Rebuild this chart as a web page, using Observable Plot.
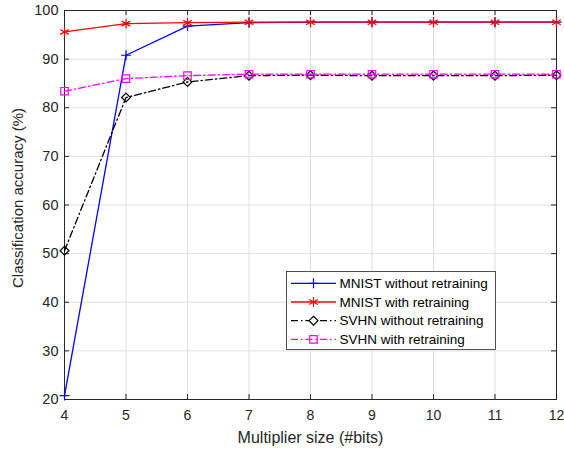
<!DOCTYPE html>
<html><head><meta charset="utf-8">
<script src="https://cdn.jsdelivr.net/npm/d3@7"></script>
<script src="https://cdn.jsdelivr.net/npm/@observablehq/plot@0.6"></script>
<style>body{margin:0;background:#fff} #chart svg{display:block}</style>
</head><body><div id="chart"></div>
<script>
// ---- data ----
const bits = [4, 5, 6, 7, 8, 9, 10, 11, 12];
const mnistWithout = [20.8, 90.8, 96.8, 97.5, 97.6, 97.6, 97.6, 97.6, 97.6];
const mnistWith    = [95.6, 97.3, 97.5, 97.6, 97.6, 97.6, 97.6, 97.6, 97.6];
const svhnWithout  = [50.6, 82.1, 85.3, 86.6, 86.7, 86.6, 86.6, 86.6, 86.7];
const svhnWith     = [83.4, 86.0, 86.6, 86.9, 86.9, 86.9, 86.9, 86.9, 86.9];
const seriesNames = ["MNIST without retraining", "MNIST with retraining", "SVHN without retraining", "SVHN with retraining"];
const seriesValues = [mnistWithout, mnistWith, svhnWithout, svhnWith];
const xTicks = [4, 5, 6, 7, 8, 9, 10, 11, 12];
const yTicks = [20, 30, 40, 50, 60, 70, 80, 90, 100];
const xLabel = "Multiplier size (#bits)";
const yLabel = "Classification accuracy (%)";

// ---- styles ----
const seriesColors = ["#0000ff", "#ff0000", "#000000", "#ff00ff"];
const seriesSymbols = ["plus", "asterisk", "diamond2", "square"];
const seriesR = [3.3, 4.7, 4.0, 4.2];
const seriesDash = [null, null, "7,3,1.5,3", "7,3,1.5,3"];
const d3Symbols = {plus: d3.symbolPlus, asterisk: d3.symbolAsterisk, diamond2: d3.symbolDiamond2, square: d3.symbolSquare};
const FONT = "'Liberation Sans', Arial, Helvetica, sans-serif";
const AX = "#262626";

const W = 564, H = 449, mL = 64, mR = 8, mT = 10, mB = 50;
const innerH = H - mT - mB, innerW = W - mL - mR;

const rows = [];
seriesValues.forEach((vals, i) => vals.forEach((v, j) => rows.push({series: seriesNames[i], bits: bits[j], acc: v})));

const marks = [
  Plot.gridX(xTicks, {stroke: "#dfdfdf", strokeOpacity: 1}),
  Plot.gridY(yTicks, {stroke: "#dfdfdf", strokeOpacity: 1}),
  // inward ticks on all four sides
  Plot.tickX(xTicks, {x: d => d, insetTop: innerH - 5, stroke: AX}),
  Plot.tickX(xTicks, {x: d => d, insetBottom: innerH - 5, stroke: AX}),
  Plot.tickY(yTicks, {y: d => d, insetRight: innerW - 5, stroke: AX}),
  Plot.tickY(yTicks, {y: d => d, insetLeft: innerW - 5, stroke: AX}),
  Plot.frame({stroke: AX}),
  Plot.axisX({ticks: xTicks, tickSize: 0, tickPadding: 11, fontSize: 14, color: AX, label: null, tickFormat: d => String(d)}),
  Plot.axisY({ticks: yTicks, tickSize: 0, tickPadding: 6, fontSize: 14.5, color: AX, label: null, tickFormat: d => String(d)}),
  Plot.text([xLabel], {frameAnchor: "bottom", dy: 38, textAnchor: "middle", lineAnchor: "middle", fontSize: 16, fontFamily: FONT, fill: AX, text: d => d}),
  Plot.text([yLabel], {frameAnchor: "left", dx: -46, dy: -7, rotate: -90, textAnchor: "middle", lineAnchor: "middle", fontSize: 15, fontFamily: FONT, fill: AX, text: d => d})
];
seriesNames.forEach((name, i) => {
  const data = rows.filter(r => r.series === name);
  marks.push(Plot.line(data, {x: "bits", y: "acc", stroke: seriesColors[i], strokeWidth: 1.3, strokeDasharray: seriesDash[i]}));
  marks.push(Plot.dot(data, {x: "bits", y: "acc", symbol: () => seriesSymbols[i], r: seriesR[i], stroke: seriesColors[i], fill: "none", strokeWidth: 1.2}));
});

const plot = Plot.plot({
  width: W, height: H,
  marginLeft: mL, marginRight: mR, marginTop: mT, marginBottom: mB,
  style: {fontFamily: FONT, background: "#fff", color: AX},
  x: {domain: [4, 12]},
  y: {domain: [20, 100]},
  symbol: {type: "identity"},
  marks
});

// legend
const svg = d3.select(plot);
const lg = svg.append("g").attr("font-family", FONT).attr("font-size", 13.5).attr("fill", "#000").attr("text-anchor", "start");
const bx = 286.5, by = 271.5, bw = 209, bh = 78;
lg.append("rect").attr("x", bx).attr("y", by).attr("width", bw).attr("height", bh)
  .attr("fill", "#fff").attr("stroke", AX).attr("stroke-width", 0.8);
seriesNames.forEach((name, i) => {
  const cy = 283.3 + i * 18.7;
  lg.append("line").attr("x1", 291).attr("x2", 336).attr("y1", cy).attr("y2", cy)
    .attr("stroke", seriesColors[i]).attr("stroke-width", 1.3)
    .attr("stroke-dasharray", seriesDash[i]);
  lg.append("path").attr("transform", `translate(313.5,${cy})`)
    .attr("d", d3.symbol(d3Symbols[seriesSymbols[i]], Math.PI * seriesR[i] * seriesR[i])())
    .attr("fill", seriesSymbols[i] === "diamond2" ? "#fff" : "none").attr("stroke", seriesColors[i]).attr("stroke-width", 1.2);
  lg.append("text").attr("x", 339.5).attr("y", cy).attr("dy", "0.35em").attr("text-anchor", "start").text(name);
});

document.getElementById("chart").append(plot);
</script>
</body></html>
